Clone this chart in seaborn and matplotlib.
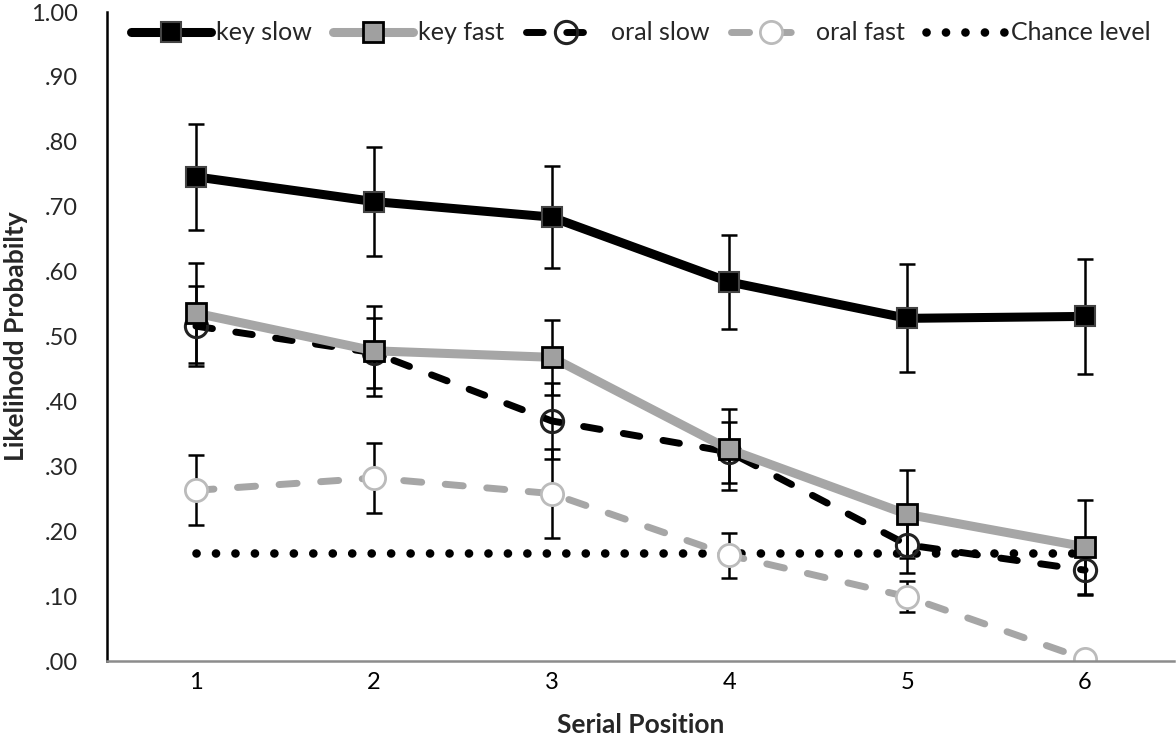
import matplotlib
matplotlib.use("Agg")
import matplotlib.pyplot as plt
import seaborn as sns
import pandas as pd
import numpy as np

# ---- data ----
positions = ["1", "2", "3", "4", "5", "6"]
key_slow = [0.746, 0.708, 0.684, 0.584, 0.528, 0.531]
key_slow_err = [0.082, 0.084, 0.078, 0.073, 0.083, 0.088]
key_fast = [0.536, 0.478, 0.468, 0.326, 0.226, 0.176]
key_fast_err = [0.077, 0.069, 0.058, 0.063, 0.068, 0.072]
oral_slow = [0.516, 0.475, 0.370, 0.322, 0.179, 0.140]
oral_slow_err = [0.062, 0.054, 0.058, 0.047, 0.044, 0.038]
oral_fast = [0.263, 0.282, 0.258, 0.163, 0.099, 0.003]
oral_fast_err = [0.054, 0.054, 0.068, 0.035, 0.024, 0.005]
chance = [0.167, 0.167, 0.167, 0.167, 0.167, 0.167]
series_names = ["key slow", "key fast", "oral slow", "oral fast", "Chance level"]
y_ticks = [0.0, 0.1, 0.2, 0.3, 0.4, 0.5, 0.6, 0.7, 0.8, 0.9, 1.0]
y_tick_labels = [".00", ".10", ".20", ".30", ".40", ".50", ".60", ".70", ".80", ".90", "1.00"]

sns.set_theme(style="white")
plt.rcParams["font.family"] = ["Lato", "DejaVu Sans"]

idx = np.arange(len(positions))
frames = []
for name, vals in zip(series_names, [key_slow, key_fast, oral_slow, oral_fast, chance]):
    frames.append(pd.DataFrame({"pos": idx, "value": vals, "series": name}))
df = pd.concat(frames, ignore_index=True)

fig = plt.figure(figsize=(11.76, 7.47), dpi=100)
ax = fig.add_axes([0.091, 0.1151, 0.9073, 0.8688])

GRAY = "#a6a6a6"
styles = {
    "key slow": dict(color="black", lw=6.5, marker="s", ms=15, mfc="black", mec="#444444", mew=1.5),
    "key fast": dict(color=GRAY, lw=6.5, marker="s", ms=15, mfc="#a0a0a0", mec="black", mew=2),
    "oral slow": dict(color="black", lw=5, marker="o", ms=16, mfc="none", mec="#222222", mew=2.2),
    "oral fast": dict(color=GRAY, lw=5, marker="o", ms=16, mfc="white", mec="#bbbbbb", mew=2),
    "Chance level": dict(color="black", lw=6.2, marker=None),
}
dash_map = {"oral slow": (2.4, 3.4), "oral fast": (2.6, 3.4), "Chance level": (0.01, 2.25)}

errs = {"key slow": key_slow_err, "key fast": key_fast_err,
        "oral slow": oral_slow_err, "oral fast": oral_fast_err}
vals_map = {"key slow": key_slow, "key fast": key_fast,
            "oral slow": oral_slow, "oral fast": oral_fast}

# error bars (under lines)
for name in ["key slow", "key fast", "oral slow", "oral fast"]:
    ax.errorbar(idx, vals_map[name], yerr=errs[name], fmt="none", ecolor="black",
                elinewidth=1.8, capsize=5.5, capthick=1.8, zorder=1.5)

zorders = {"Chance level": 2.2, "oral fast": 2.4, "oral slow": 2.6, "key fast": 2.8, "key slow": 3.0}
for name in ["Chance level", "oral fast", "oral slow", "key fast", "key slow"]:
    st = styles[name]
    sub = df[df["series"] == name]
    sns.lineplot(data=sub, x="pos", y="value", ax=ax, label=name, color=st["color"],
                 linewidth=st["lw"], marker=st["marker"],
                 markersize=st.get("ms", 0), markerfacecolor=st.get("mfc", "none"),
                 markeredgecolor=st.get("mec", "black"), markeredgewidth=st.get("mew", 0),
                 zorder=zorders[name], errorbar=None)
    line = ax.lines[-1]
    line.set_solid_capstyle("round")
    if name in dash_map:
        line.set_dashes(dash_map[name])
        line.set_dash_capstyle("round")

ax.set_xlim(-0.5, 5.5)
ax.set_ylim(0, 1.0)
ax.set_yticks(y_ticks)
ax.set_yticklabels(y_tick_labels)
ax.set_xticks(idx)
ax.set_xticklabels(positions)
ax.set_xticks(np.arange(-0.5, 6.0, 1.0), minor=True)
ax.tick_params(axis="x", which="major", length=0, pad=8, labelsize=17, colors="black")
ax.tick_params(axis="x", which="minor", length=8, width=1.5, color="#8c8c8c", direction="out")
ax.tick_params(axis="y", which="major", length=8, width=1.8, color="black", direction="out",
               labelsize=17, pad=13)

for s in ["top", "right"]:
    ax.spines[s].set_visible(False)
ax.spines["left"].set_color("black")
ax.spines["left"].set_linewidth(1.8)
ax.spines["bottom"].set_color("#8c8c8c")
ax.spines["bottom"].set_linewidth(1.8)

ax.set_xlabel("Serial Position", fontsize=19, fontweight="bold", labelpad=14)
ax.set_ylabel("Likelihodd Probabilty", fontsize=19, fontweight="bold", labelpad=2)

handles, labels = ax.get_legend_handles_labels()
order = [labels.index(n) for n in series_names]
ax.get_legend().remove()
fig.legend([handles[i] for i in order], [labels[i] for i in order], loc="center",
           bbox_to_anchor=(0.545, 0.956), ncol=5, frameon=False, fontsize=18,
           handlelength=3.2, handletextpad=0.2, columnspacing=0.85, borderaxespad=0)

fig.savefig("out.png", dpi=100)
